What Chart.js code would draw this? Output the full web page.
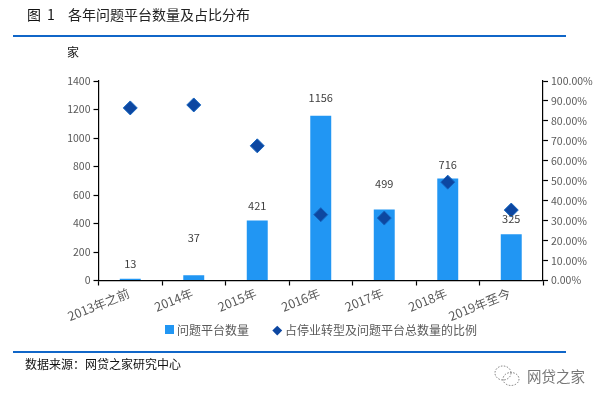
<!DOCTYPE html>
<html lang="zh"><head><meta charset="utf-8">
<style>
html,body{margin:0;padding:0;background:#fff;width:606px;height:403px;overflow:hidden}
body{position:relative;font-family:"Noto Sans CJK SC",sans-serif}
canvas{position:absolute;left:0;top:0}
.t{position:absolute;white-space:nowrap;line-height:1}
.r{position:absolute;left:13px;width:553px;height:2px;background:#1066C8}
</style>
<script src="https://cdn.jsdelivr.net/npm/chart.js@4/dist/chart.umd.min.js"></script>
</head><body>
<canvas id="c" width="606" height="403"></canvas>
<div class="t" style="left:27px;top:7px;font-size:14px;color:#111">图</div>
<div class="t" style="left:47px;top:7px;font-size:14px;color:#111">1</div>
<div class="t" style="left:68px;top:7px;font-size:14px;color:#222">各年问题平台数量及占比分布</div>
<div class="r" style="top:35px"></div>
<div class="t" style="left:67px;top:46px;font-size:12px;color:#111">家</div>
<div style="position:absolute;left:165px;top:325px;width:9px;height:9px;background:#2196F3"></div>
<div class="t" id="leg0" style="left:177px;top:324px;font-size:12px;color:#595959"></div>
<div style="position:absolute;left:273.5px;top:326.5px;width:6.5px;height:6.5px;background:#0D47A1;transform:rotate(45deg)"></div>
<div class="t" id="leg1" style="left:285px;top:324px;font-size:12px;color:#595959"></div>
<div class="r" style="top:351px"></div>
<div class="t" style="left:25px;top:358px;font-size:12px;color:#111">数据来源&#xFF1A;网贷之家研究中心</div>
<svg style="position:absolute;left:493px;top:362px" width="30" height="30" fill="none" stroke="#777" stroke-width="1" stroke-dasharray="1.5 1.5">
<ellipse cx="10" cy="11" rx="8" ry="7"/><ellipse cx="18" cy="17" rx="8" ry="6.5"/></svg>
<div class="t" style="left:527px;top:369px;font-size:14.5px;color:#777">网贷之家</div>
<script>
const categories=["2013年之前","2014年","2015年","2016年","2017年","2018年","2019年至今"];
const platformCounts=[13,37,421,1156,499,716,325];
const transitionShare=[86.5,88,67.5,33,31.3,49.3,35.3];
const leftTicks=[0,200,400,600,800,1000,1200,1400];
const labelLift=[15,37,15,18,26,14,15];
const seriesNames=["问题平台数量","占停业转型及问题平台总数量的比例"];
const tickColor="#595959", font='"Noto Sans CJK SC"';
document.getElementById("leg0").textContent=seriesNames[0];
document.getElementById("leg1").textContent=seriesNames[1];
const labelPlugin={id:"labels",afterDatasetsDraw(chart){
  const ctx=chart.ctx,meta=chart.getDatasetMeta(0);
  ctx.save();ctx.font='11px '+font;ctx.fillStyle="#404040";ctx.textAlign="center";ctx.textBaseline="middle";
  meta.data.forEach((b,i)=>ctx.fillText(platformCounts[i],b.x,b.y-labelLift[i]));
  ctx.restore();}};
new Chart(document.getElementById("c"),{
 data:{labels:categories,datasets:[
  {type:"bar",label:seriesNames[0],data:platformCounts,backgroundColor:"#2196F3",borderWidth:0,yAxisID:"y",order:2,categoryPercentage:.66,barPercentage:.5},
  {type:"line",label:seriesNames[1],data:transitionShare,showLine:false,yAxisID:"y2",order:1,pointStyle:"rectRot",pointRadius:7,pointHoverRadius:7,backgroundColor:"#0D47A1",borderColor:"#1565C0",borderWidth:1}
 ]},
 options:{responsive:false,animation:false,devicePixelRatio:1,
  layout:{padding:{left:34,top:81,right:0,bottom:78}},
  plugins:{tooltip:{enabled:false},legend:{display:false}},
  scales:{
   x:{offset:true,grid:{drawOnChartArea:false,offset:true,color:"#000",tickLength:5,tickWidth:1.2},border:{color:"#000",width:1.2},
      ticks:{color:tickColor,font:{family:font,size:12.5},minRotation:22,maxRotation:22,padding:0,labelOffset:-1.5,autoSkip:false},
      afterFit(s){s.height=44.5}},
   y:{position:"left",min:0,max:1400,afterBuildTicks(s){s.ticks=leftTicks.map(v=>({value:v}))},
      grid:{drawOnChartArea:false,color:"#000",tickLength:5,tickWidth:1.2},border:{color:"#000",width:1.2},
      ticks:{color:tickColor,font:{family:font,size:10.5},padding:3,callback:v=>String(v)},afterFit(s){s.width=64.5}},
   y2:{position:"right",min:0,max:100,
      grid:{drawOnChartArea:false,color:"#000",tickLength:5,tickWidth:1.2},border:{color:"#000",width:1.2},
      ticks:{stepSize:10,color:tickColor,font:{family:font,size:10.5},padding:3,callback:v=>v.toFixed(2)+"%"},afterFit(s){s.width=63}}
  }},
 plugins:[labelPlugin]});
</script>
</body></html>
